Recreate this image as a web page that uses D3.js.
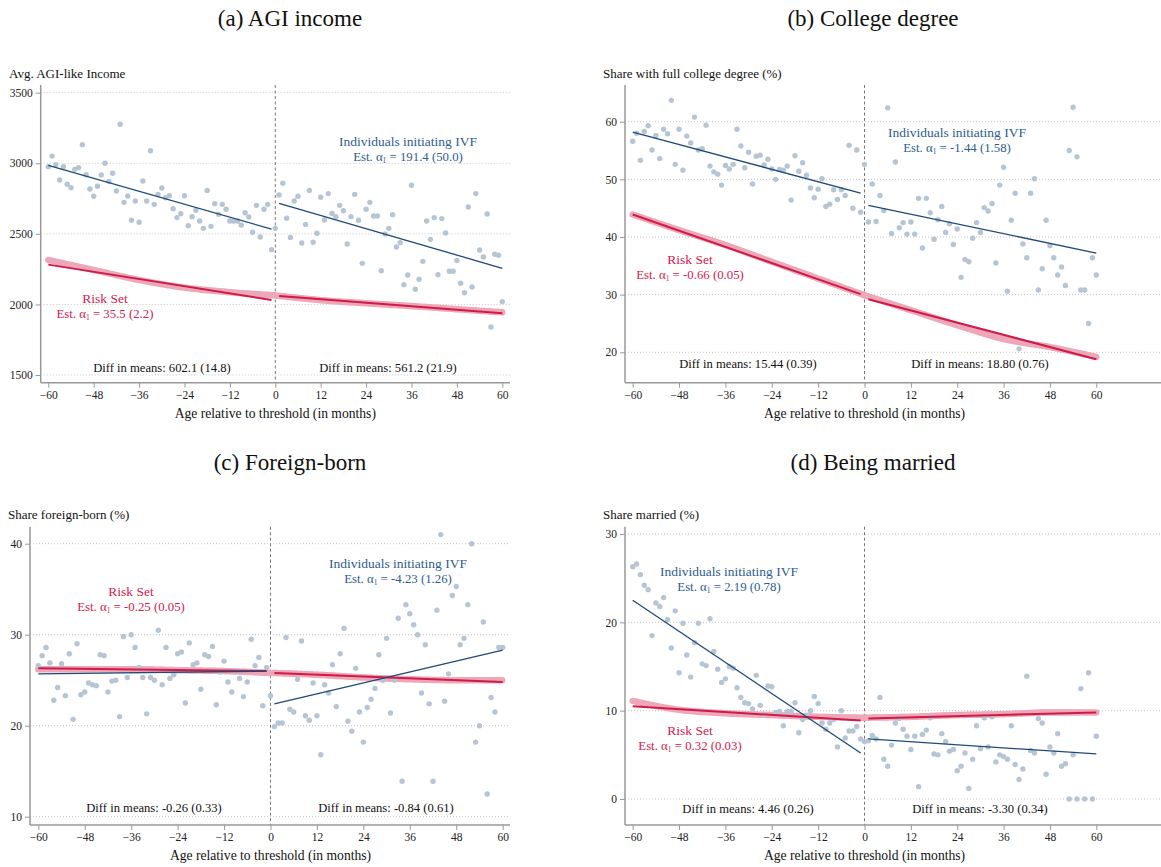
<!DOCTYPE html>
<html><head><meta charset="utf-8">
<script src="https://cdn.jsdelivr.net/npm/d3@7"></script>
<style>
body{margin:0;background:#fff}
svg{display:block}
text{font-family:"Liberation Serif","Times New Roman",serif}
</style>
</head><body>
<svg id="chart" width="1161" height="867"></svg>
<script>
// ---------- data ----------
const months = d3.range(-60, 61);
const xTicks = [-60,-48,-36,-24,-12,0,12,24,36,48,60];
const riskMonthsPre = [-60,-48,-36,-24,-12,0];
const riskMonthsPost = [0,12,24,36,48,60];
const fitMonthsPre = [-60,-1];
const fitMonthsPost = [1,60];

// (a) AGI income – IVF group means, months -60..60
const agiIncome = [2976,3051,2990,2881,2976,2851,2827,2957,2969,3132,2919,2818,2766,2837,2917,3000,2872,2929,2804,3276,
  2723,2768,2596,2733,2582,2874,2733,3089,2709,2780,2825,2756,2770,2678,2615,2643,2770,2558,2622,2667,
  2591,2539,2808,2553,2714,2638,2709,2674,2591,2591,2591,2563,2650,2619,2511,2702,2478,2674,2709,2388,
  2539,
  2775,2858,2610,2475,2733,2766,2435,2567,2808,2440,2504,2759,2598,2785,2645,2622,2702,2664,2428,2622,
  2780,2596,2291,2674,2723,2626,2626,2239,2499,2539,2636,2407,2438,2140,2208,2844,2107,2178,2305,2591,
  2461,2615,2211,2608,2506,2235,2235,2312,2150,2083,2690,2124,2785,2386,2336,2641,1840,2355,2348,2020];
const agiRiskPre = [2315,2244,2173,2119,2086,2064];
const agiRiskPost = [2064,2030,2008,1988,1966,1944];
const agiIvfFitPre = [2985,2534], agiIvfFitPost = [2716,2256];
const agiRiskFitPre = [2282,2031], agiRiskFitPost = [2060,1937];
const agiTicks = [1500,2000,2500,3000,3500];

// (b) College degree
const collegeShare = [56.6,58.0,53.3,58.3,59.3,55.1,57.6,53.6,58.7,57.9,63.7,52.6,58.7,51.6,57.5,56.3,60.8,55.1,55.3,59.4,
  52.3,51.3,50.9,49.0,52.4,51.8,52.6,58.7,55.8,52.0,54.7,49.2,54.0,54.2,52.5,53.5,51.8,50.0,51.7,51.6,
  52.3,46.4,54.1,51.4,52.9,50.7,48.5,46.8,48.3,50.1,45.3,45.7,48.2,46.5,48.2,47.2,55.9,45.0,55.1,44.3,
  52.6,
  42.6,49.2,42.7,47.2,44.6,62.4,40.6,53.0,41.6,42.5,40.5,42.6,40.5,46.7,38.1,46.7,44.2,39.6,43.0,45.3,
  40.8,42.3,38.7,41.4,33.0,36.1,35.7,39.8,42.5,40.8,45.1,44.5,45.8,35.5,49.0,52.1,30.6,42.9,47.6,20.6,
  38.8,36.4,47.6,50.1,30.8,34.5,42.9,38.5,36.4,33.4,34.8,31.6,55.0,62.5,53.9,30.8,30.8,25.0,36.4,33.4];
const collegeRiskPre = [43.9,41.2,38.6,35.7,32.8,29.9];
const collegeRiskPost = [29.9,27.3,24.7,22.3,20.9,19.2];
const collegeIvfFitPre = [58.2,47.6], collegeIvfFitPost = [45.5,37.2];
const collegeRiskFitPre = [43.9,30.1], collegeRiskFitPost = [29.2,18.8];
const collegeTicks = [20,30,40,50,60];

// (c) Foreign-born
const foreignShare = [26.6,27.7,28.6,26.9,22.8,24.2,26.8,23.3,27.9,20.7,29.0,23.4,23.7,24.7,24.5,24.4,27.8,27.7,23.7,24.9,
  25.0,21.0,29.8,25.3,30.0,28.6,26.4,25.3,21.3,25.3,25.0,30.5,24.5,28.6,25.2,25.6,27.9,28.1,22.5,29.1,
  26.7,26.9,24.0,27.8,27.6,28.7,22.3,25.9,27.1,24.8,23.7,26.0,25.2,23.2,24.8,29.5,26.6,27.5,22.2,26.4,
  23.3,
  19.9,20.3,20.3,29.7,21.8,21.5,25.1,29.3,21.1,20.6,24.7,21.1,16.8,24.5,23.6,26.7,22.1,27.9,30.7,20.5,
  19.4,26.3,21.5,18.2,22.0,22.9,24.1,27.8,25.0,29.6,21.4,25.0,31.8,13.9,33.3,32.3,31.1,30.0,23.6,28.9,
  22.4,13.9,32.7,41.0,22.7,25.7,34.3,35.3,28.9,29.6,33.3,40.0,18.2,20.0,31.4,12.5,23.1,21.5,28.6,28.6];
const foreignRiskPre = [26.2,26.2,26.2,26.1,26.0,25.8];
const foreignRiskPost = [25.8,25.6,25.3,25.1,25.0,25.0];
const foreignIvfFitPre = [25.7,26.0], foreignIvfFitPost = [22.4,28.3];
const foreignRiskFitPre = [26.3,26.0], foreignRiskFitPost = [25.8,24.8];
const foreignTicks = [10,20,30,40];

// (d) Being married
const marriedShare = [26.3,26.6,25.4,24.2,23.7,18.5,22.2,21.8,22.8,20.3,17.1,21.3,14.3,19.9,16.3,13.8,17.7,19.9,15.3,15.1,
  20.4,16.7,14.7,13.2,13.6,15.0,14.8,12.6,11.5,10.9,10.8,10.2,14.0,10.6,9.5,12.8,12.7,9.8,9.9,8.3,
  9.9,9.9,10.9,7.5,9.0,9.5,10.0,11.6,10.8,8.6,7.9,8.6,9.0,5.9,10.0,6.9,7.7,7.7,8.2,6.8,
  6.5,
  6.6,7.2,6.8,11.5,4.5,3.7,6.1,8.6,9.1,7.9,7.1,5.6,7.1,1.4,7.3,7.8,9.2,5.1,5.0,7.4,
  6.5,5.4,5.6,3.2,3.7,5.2,1.2,4.5,8.3,5.7,9.2,5.9,9.3,4.2,5.0,4.8,4.5,8.3,3.9,2.2,
  3.4,13.9,5.5,5.2,9.1,8.6,2.8,5.9,5.2,7.4,3.7,4.0,0,5.0,0,12.5,0,14.3,0,7.1];
const marriedRiskPre = [11.1,10.1,9.7,9.5,9.3,9.2];
const marriedRiskPost = [9.2,9.3,9.5,9.6,9.8,9.8];
const marriedIvfFitPre = [22.5,5.2], marriedIvfFitPost = [6.8,5.1];
const marriedRiskFitPre = [10.5,8.9], marriedRiskFitPost = [9.1,9.8];
const marriedTicks = [0,10,20,30];

// ---------- panels (layout) ----------
const panels = [
 {title:"(a) AGI income", tx:290, ty:26, ylab:"Avg. AGI-like Income", ylx:9, yly:78,
  xr:[48.3,502.3], ax:[40.7,510], yd:[1500,3500], yr:[375,92.7], top:85, bottom:382.7,
  vals:agiIncome, riskPre:agiRiskPre, riskPost:agiRiskPost,
  ivfPre:agiIvfFitPre, ivfPost:agiIvfFitPost, rfPre:agiRiskFitPre, rfPost:agiRiskFitPost, ticks:agiTicks,
  ivfTxt:["191.4 (50.0)",408,146], riskTxt:["35.5 (2.2)",105,303],
  diff:[["Diff in means: 602.1 (14.8)",162,372],["Diff in means: 561.2 (21.9)",388,372]]},
 {title:"(b) College degree", tx:873, ty:26, ylab:"Share with full college degree (%)", ylx:603, yly:78,
  xr:[632.7,1096.3], ax:[625,1161], yd:[20,60], yr:[352.3,121.7], top:85, bottom:382.7,
  vals:collegeShare, riskPre:collegeRiskPre, riskPost:collegeRiskPost,
  ivfPre:collegeIvfFitPre, ivfPost:collegeIvfFitPost, rfPre:collegeRiskFitPre, rfPost:collegeRiskFitPost, ticks:collegeTicks,
  ivfTxt:["-1.44 (1.58)",957,137], riskTxt:["-0.66 (0.05)",690,264],
  diff:[["Diff in means: 15.44 (0.39)",748,368],["Diff in means: 18.80 (0.76)",980,368]]},
 {title:"(c) Foreign-born", tx:290, ty:470, ylab:"Share foreign-born (%)", ylx:8, yly:519,
  xr:[38.3,502.7], ax:[30,510], yd:[10,40], yr:[816.7,543.7], top:526.7, bottom:825,
  vals:foreignShare, riskPre:foreignRiskPre, riskPost:foreignRiskPost,
  ivfPre:foreignIvfFitPre, ivfPost:foreignIvfFitPost, rfPre:foreignRiskFitPre, rfPost:foreignRiskFitPost, ticks:foreignTicks,
  ivfTxt:["-4.23 (1.26)",398,568], riskTxt:["-0.25 (0.05)",131,596],
  diff:[["Diff in means: -0.26 (0.33)",154,812],["Diff in means: -0.84 (0.61)",386,812]]},
 {title:"(d) Being married", tx:873, ty:470, ylab:"Share married (%)", ylx:603, yly:519,
  xr:[632.7,1096.3], ax:[625,1161], yd:[0,30], yr:[799,534], top:526.7, bottom:825,
  vals:marriedShare, riskPre:marriedRiskPre, riskPost:marriedRiskPost,
  ivfPre:marriedIvfFitPre, ivfPost:marriedIvfFitPost, rfPre:marriedRiskFitPre, rfPost:marriedRiskFitPost, ticks:marriedTicks,
  ivfTxt:["2.19 (0.78)",729,576], riskTxt:["0.32 (0.03)",690,735],
  diff:[["Diff in means: 4.46 (0.26)",748,813],["Diff in means: -3.30 (0.34)",980,813]]}
];

const C = {dot:"#b6c5d4", blue:"#1f4a78", crim:"#cf1b48", pink:"#eda7b9", blueTxt:"#2e5d8c", crimTxt:"#d4204c",
  grid:"#c4c4c4", axis:"#999", txt:"#111"};

const svg = d3.select("#chart");

function estLabel(g, color, name, est, cx, cy){
  const t = g.append("g").attr("fill", color).attr("font-size", 13.5).attr("text-anchor","middle");
  t.append("text").attr("x", cx).attr("y", cy).text(name);
  const t2 = t.append("text").attr("x", cx).attr("y", cy + 14.5).attr("font-size", 12.8);
  t2.append("tspan").text("Est. α");
  t2.append("tspan").attr("font-size", 7.5).attr("dy", 2.5).text("1");
  t2.append("tspan").attr("dy", -2.5).text(" = " + est);
}

panels.forEach(p => {
  const g = svg.append("g");
  const x = d3.scaleLinear().domain([-60,60]).range(p.xr);
  const y = d3.scaleLinear().domain(p.yd).range(p.yr);

  // title
  g.append("text").attr("x", p.tx).attr("y", p.ty).attr("text-anchor","middle")
    .attr("font-size", 23).attr("fill", "#111").text(p.title);
  // y label
  g.append("text").attr("x", p.ylx).attr("y", p.yly).attr("font-size", 13).attr("fill", C.txt).text(p.ylab);

  // gridlines
  g.append("g").selectAll("line").data(p.ticks).join("line")
    .attr("x1", p.ax[0]).attr("x2", p.ax[1])
    .attr("y1", d => y(d)).attr("y2", d => y(d))
    .attr("stroke", C.grid).attr("stroke-width", 1).attr("stroke-dasharray", "1,2");

  // threshold line
  g.append("line").attr("x1", x(0)).attr("x2", x(0)).attr("y1", p.top).attr("y2", p.bottom)
    .attr("stroke", "#777").attr("stroke-width", 1).attr("stroke-dasharray", "3,2.5");

  // axes
  const yAxis = d3.axisLeft(y).tickValues(p.ticks).tickSize(5).tickPadding(3).tickFormat(d3.format("d"));
  const ya = g.append("g").attr("transform", `translate(${p.ax[0]},0)`).call(yAxis);
  ya.select(".domain").remove();
  ya.append("line").attr("x1",0).attr("x2",0).attr("y1",p.top).attr("y2",p.bottom).attr("stroke",C.axis).attr("stroke-width",1.5);
  const xAxis = d3.axisBottom(x).tickValues(xTicks).tickSize(5).tickPadding(3).tickFormat(d3.format("d"));
  const xa = g.append("g").attr("transform", `translate(0,${p.bottom})`).call(xAxis);
  xa.select(".domain").remove();
  xa.append("line").attr("x1",p.ax[0]).attr("x2",p.ax[1]).attr("y1",0).attr("y2",0).attr("stroke",C.axis).attr("stroke-width",1.5);
  [ya, xa].forEach(a => {
    a.selectAll(".tick line").attr("stroke", C.axis);
    a.selectAll(".tick text").attr("font-family", "Liberation Serif, serif").attr("font-size", 11.5).attr("fill", "#222");
  });
  // x label
  g.append("text").attr("x", x(0)).attr("y", p.bottom + 35).attr("text-anchor","middle")
    .attr("font-size", 13.6).attr("fill", C.txt).text("Age relative to threshold (in months)");

  // risk set smoothed means (pink band)
  const band = d3.line().x(d => x(d[0])).y(d => y(d[1])).curve(d3.curveMonotoneX);
  [[riskMonthsPre, p.riskPre], [riskMonthsPost, p.riskPost]].forEach(([m, v]) => {
    g.append("path").attr("d", band(m.map((mm,i) => [mm, v[i]])))
      .attr("fill","none").attr("stroke", C.pink).attr("stroke-width", 6.5)
      .attr("stroke-linecap","round").attr("stroke-dasharray","2.2,0.6");
  });

  // IVF scatter
  g.append("g").selectAll("circle").data(months.map((m,i) => [m, p.vals[i]])).join("circle")
    .attr("cx", d => x(d[0])).attr("cy", d => y(d[1])).attr("r", 2.7).attr("fill", C.dot);

  // fitted lines
  const seg = d3.line().x(d => x(d[0])).y(d => y(d[1]));
  [[fitMonthsPre, p.rfPre], [fitMonthsPost, p.rfPost]].forEach(([m, v]) => {
    g.append("path").attr("d", seg(m.map((mm,i) => [mm, v[i]])))
      .attr("fill","none").attr("stroke", C.crim).attr("stroke-width", 2);
  });
  [[fitMonthsPre, p.ivfPre], [fitMonthsPost, p.ivfPost]].forEach(([m, v]) => {
    g.append("path").attr("d", seg(m.map((mm,i) => [mm, v[i]])))
      .attr("fill","none").attr("stroke", C.blue).attr("stroke-width", 1.3);
  });

  // labels
  estLabel(g, C.blueTxt, "Individuals initiating IVF", p.ivfTxt[0], p.ivfTxt[1], p.ivfTxt[2]);
  estLabel(g, C.crimTxt, "Risk Set", p.riskTxt[0], p.riskTxt[1], p.riskTxt[2]);
  p.diff.forEach(d => g.append("text").attr("x", d[1]).attr("y", d[2]).attr("text-anchor","middle")
    .attr("font-size", 12.6).attr("fill", C.txt).text(d[0]));
});
</script>
</body></html>
